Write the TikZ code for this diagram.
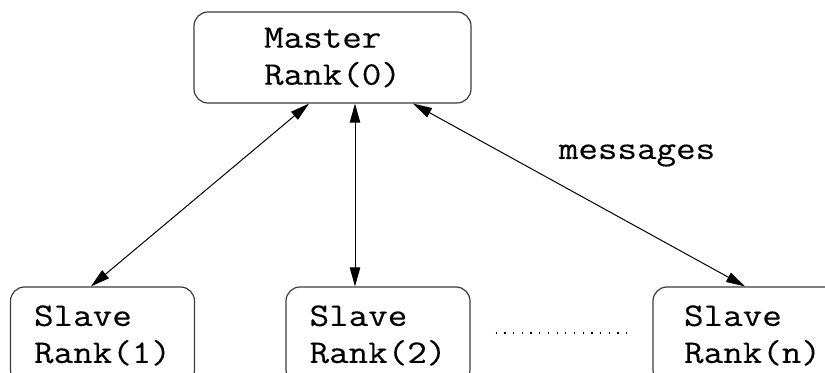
\documentclass[tikz,border=0pt]{standalone}
\usepackage{fontspec}
\usepackage{tikz}
\usetikzlibrary{calc}
\usetikzlibrary{arrows.meta}
\newfontfamily\figFont[FakeStretch=1.15, FakeBold=0.25]{Latin Modern Mono}
\definecolor{BoxGray}{RGB}{60,60,60}
\newcommand{\rankText}[2]{#1\\Rank(#2)}

\begin{document}
\begin{tikzpicture}[x=0.5pt, y=-0.5pt,
		>={Triangle[length=9.5pt, width=5.2pt]},
		rankbox/.style={draw=BoxGray, line width=0.6pt, rounded corners=7pt,
			inner sep=0pt, align=left, font=\figFont\fontsize{16.5}{18.5}\selectfont},
		msgline/.style={line width=0.5pt, <->}]

		\path [use as bounding box, clip] (0,0) rectangle (825,373);

		\coordinate (m) at (332.5,57.5);
		\coordinate (s1) at (102.5,335.5);
		\coordinate (s2) at (378,335.5);
		\coordinate (sn) at (752.5,335.5);

		\node [rankbox, minimum width=138.5pt, minimum height=45.5pt] (master) at (m) {\rankText{Master}{0}};
		\node [rankbox, minimum width=92pt, minimum height=48.5pt] (slaveone) at (s1) {\rankText{Slave}{1}};
		\node [rankbox, minimum width=92pt, minimum height=48.5pt] (slavetwo) at (s2) {\rankText{Slave}{2}};
		\node [rankbox, minimum width=99.5pt, minimum height=48.5pt] (slaven) at (sn) {\rankText{Slave}{n}};

		\draw [msgline] ($(master.south)+(-23.5,0)$) -- ($(slaveone.north)+(-11.5,0)$); %s1
		\draw [msgline] ($(master.south)+(22.5,0)$) -- ($(slavetwo.north)+(-23,0)$); %s2
		\draw [msgline] ($(master.south)+(80.5,0)$) -- ($(slaven.north)+(-7.5,0)$); %sn

		\draw [line width=0.6pt, dash pattern=on 0.6pt off 3.75pt, shorten <=12.5pt, shorten >=13pt]
			($(slavetwo.east)+(0,-2.5)$) -- ($(slaven.west)+(0,-2.5)$);

		\node [anchor=base, font=\figFont\fontsize{16.5}{18.5}\selectfont] (msg) at (637,159) {messages};
	\end{tikzpicture}
\end{document}
